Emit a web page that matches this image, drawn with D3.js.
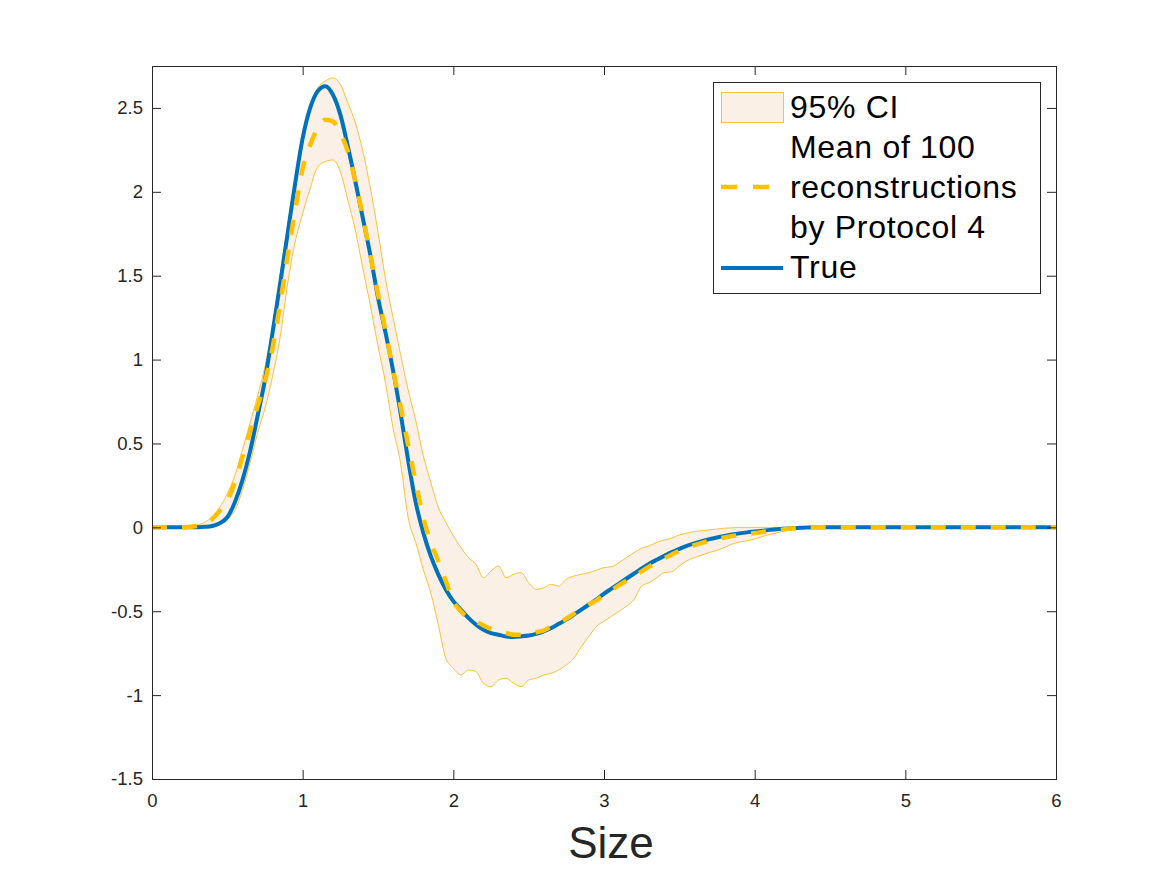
<!DOCTYPE html>
<html>
<head>
<meta charset="utf-8">
<script src="https://cdn.jsdelivr.net/npm/d3@7"></script>
<style>
  body { margin: 0; background: #fff; }
  text { font-family: "Liberation Sans", Arial, Helvetica, sans-serif; }
</style>
</head>
<body>
<div id="chart-area"></div>
<script>
// values
const sizes = [0, 0.05, 0.1, 0.15, 0.2, 0.25, 0.3, 0.35, 0.4, 0.45, 0.5, 0.55, 0.6, 0.65, 0.7, 0.75, 0.8, 0.85, 0.9, 0.95,
  1, 1.05, 1.1, 1.15, 1.2, 1.25, 1.3, 1.35, 1.4, 1.45, 1.5, 1.55, 1.6, 1.65, 1.7, 1.75, 1.8, 1.85, 1.9, 1.95,
  2, 2.05, 2.1, 2.15, 2.2, 2.25, 2.3, 2.35, 2.4, 2.45, 2.5, 2.55, 2.6, 2.65, 2.7, 2.75, 2.8, 2.85, 2.9, 2.95,
  3, 3.05, 3.1, 3.15, 3.2, 3.25, 3.3, 3.35, 3.4, 3.45, 3.5, 3.55, 3.6, 3.65, 3.7, 3.75, 3.8, 3.85, 3.9, 3.95,
  4, 4.05, 4.1, 4.15, 4.2, 4.25, 4.3, 4.35, 4.4, 4.5, 5, 5.5, 6];

const trueVals = [0, 0, 0, 0, 0, 0, 0.001, 0.003, 0.008, 0.025, 0.06, 0.15, 0.28, 0.45, 0.66, 0.88, 1.16, 1.45, 1.75, 2.05,
  2.32, 2.5, 2.6, 2.63, 2.58, 2.46, 2.27, 2.06, 1.84, 1.62, 1.37, 1.16, 0.935, 0.68, 0.4, 0.15, -0.03, -0.17, -0.28, -0.37,
  -0.44, -0.49, -0.54, -0.58, -0.61, -0.63, -0.64, -0.65, -0.653, -0.65, -0.645, -0.635, -0.62, -0.6, -0.575, -0.55, -0.52, -0.49, -0.46, -0.43,
  -0.395, -0.365, -0.335, -0.305, -0.275, -0.245, -0.217, -0.193, -0.17, -0.148, -0.128, -0.11, -0.095, -0.082, -0.07, -0.06, -0.051, -0.043, -0.036, -0.03,
  -0.025, -0.02, -0.015, -0.011, -0.008, -0.005, -0.003, -0.001, 0, 0, 0, 0, 0];

const meanVals = [0, 0, 0, 0, 0, 0.003, 0.008, 0.02, 0.05, 0.1, 0.16, 0.27, 0.42, 0.57, 0.72, 0.87, 1.07, 1.33, 1.62, 1.89,
  2.14, 2.28, 2.38, 2.43, 2.42, 2.35, 2.24, 2.06, 1.85, 1.62, 1.39, 1.17, 0.94, 0.72, 0.49, 0.27, 0.06, -0.09, -0.2, -0.32,
  -0.44, -0.5, -0.54, -0.56, -0.585, -0.605, -0.62, -0.63, -0.64, -0.64, -0.635, -0.625, -0.615, -0.59, -0.57, -0.545, -0.515, -0.485, -0.46, -0.435,
  -0.405, -0.375, -0.345, -0.317, -0.29, -0.262, -0.234, -0.208, -0.184, -0.162, -0.14, -0.122, -0.106, -0.092, -0.08, -0.069, -0.06, -0.052, -0.045, -0.039,
  -0.034, -0.028, -0.022, -0.016, -0.011, -0.007, -0.004, -0.002, 0, 0, 0, 0, 0];

const upperVals = [0, 0, 0.001, 0.002, 0.003, 0.006, 0.013, 0.03, 0.065, 0.12, 0.2, 0.31, 0.46, 0.62, 0.78, 0.96, 1.2, 1.5, 1.8, 2.08,
  2.34, 2.52, 2.62, 2.66, 2.68, 2.64, 2.53, 2.41, 2.24, 2.02, 1.76, 1.48, 1.25, 1.03, 0.82, 0.64, 0.43, 0.27, 0.12, 0.03,
  -0.05, -0.12, -0.18, -0.22, -0.3, -0.26, -0.23, -0.3, -0.28, -0.27, -0.33, -0.37, -0.36, -0.34, -0.35, -0.31, -0.29, -0.28, -0.27, -0.255,
  -0.24, -0.235, -0.21, -0.18, -0.15, -0.125, -0.11, -0.09, -0.075, -0.065, -0.045, -0.035, -0.025, -0.02, -0.015, -0.01, -0.005, -0.003, 0, 0,
  0, 0, 0, 0, 0, 0, 0, 0, 0, 0, 0, 0, 0];

const lowerVals = [0, 0, 0, 0, 0, 0, 0, 0.001, 0.005, 0.02, 0.05, 0.1, 0.22, 0.38, 0.56, 0.71, 0.9, 1.13, 1.45, 1.7,
  1.87, 2.02, 2.15, 2.18, 2.19, 2.12, 1.95, 1.77, 1.54, 1.32, 1.08, 0.86, 0.59, 0.38, 0.06, -0.09, -0.25, -0.39, -0.58, -0.78,
  -0.84, -0.88, -0.85, -0.86, -0.93, -0.95, -0.91, -0.9, -0.93, -0.95, -0.91, -0.9, -0.88, -0.87, -0.85, -0.82, -0.78, -0.71, -0.65, -0.59,
  -0.56, -0.53, -0.5, -0.47, -0.43, -0.35, -0.33, -0.3, -0.27, -0.265, -0.23, -0.2, -0.18, -0.165, -0.15, -0.137, -0.12, -0.1, -0.087, -0.08,
  -0.07, -0.055, -0.042, -0.032, -0.02, -0.005, 0, 0, 0, 0, 0, 0, 0];

const xTicks = [0, 1, 2, 3, 4, 5, 6];
const yTicks = [-1.5, -1, -0.5, 0, 0.5, 1, 1.5, 2, 2.5];
const yLimits = [-1.5, 2.75];
const legendLabels = ['95% CI', 'Mean of 100', 'reconstructions', 'by Protocol 4', 'True'];

const W = 1167, H = 875;
const margins = { top: 66, bottom: 96, left: 152, right: 111 };
const width = W - margins.left - margins.right;
const height = H - margins.top - margins.bottom;

const root = d3.select('#chart-area').append('svg')
  .attr('width', W)
  .attr('height', H);
const svg = root.append('g')
  .attr('transform', `translate(${margins.left}, ${margins.top})`);

const x = d3.scaleLinear().domain([0, 6]).range([0, width]);
const y = d3.scaleLinear().domain(yLimits).range([height, 0]);

const points = sizes.map((s, i) => ({
  s, t: trueVals[i], m: meanVals[i], u: upperVals[i], l: lowerVals[i]
}));

// CI band
svg.append('path')
  .datum(points)
  .attr('fill', '#faf0e6')
  .attr('stroke', 'none')
  .attr('d', d3.area().x(d => x(d.s)).y0(d => y(d.l)).y1(d => y(d.u)).curve(d3.curveMonotoneX));

['u', 'l'].forEach(k => {
  svg.append('path')
    .datum(points)
    .attr('fill', 'none')
    .attr('stroke', '#f8c33a')
    .attr('stroke-width', 1)
    .attr('d', d3.line().x(d => x(d.s)).y(d => y(d[k])).curve(d3.curveMonotoneX));
});

// true curve
svg.append('path')
  .datum(points)
  .attr('fill', 'none')
  .attr('stroke', '#0072bd')
  .attr('stroke-width', 4)
  .attr('d', d3.line().x(d => x(d.s)).y(d => y(d.t)).curve(d3.curveMonotoneX));

// mean curve
svg.append('path')
  .datum(points)
  .attr('fill', 'none')
  .attr('stroke', '#ffc000')
  .attr('stroke-width', 4.5)
  .attr('stroke-dasharray', '15,15')
  .attr('d', d3.line().x(d => x(d.s)).y(d => y(d.m)).curve(d3.curveMonotoneX));

// axes (box with inward ticks)
const axisColor = '#262626';
const xAxisCall = d3.axisBottom(x).tickValues(xTicks).tickSize(-9).tickPadding(15).tickFormat(d3.format('d'));
const yAxisCall = d3.axisLeft(y).tickValues(yTicks).tickSize(-9).tickPadding(9).tickFormat(d => d);

const styleAxis = g => {
  g.select('.domain').attr('stroke', axisColor);
  g.selectAll('.tick line').attr('stroke', axisColor);
  g.selectAll('.tick text')
    .attr('fill', axisColor)
    .attr('font-size', '18.5px')
    .attr('font-family', '"Liberation Sans", Arial, sans-serif');
};

svg.append('g')
  .attr('transform', `translate(0, ${height})`)
  .call(xAxisCall)
  .call(styleAxis);
svg.append('g')
  .call(d3.axisTop(x).tickValues(xTicks).tickSize(-9).tickFormat(''))
  .call(styleAxis);
svg.append('g')
  .call(yAxisCall)
  .call(styleAxis);
svg.append('g')
  .attr('transform', `translate(${width}, 0)`)
  .call(d3.axisRight(y).tickValues(yTicks).tickSize(-9).tickFormat(''))
  .call(styleAxis);

// x label
root.append('text')
  .attr('x', 611)
  .attr('y', 858)
  .attr('text-anchor', 'middle')
  .attr('font-size', '44px')
  .attr('fill', axisColor)
  .text('Size');

// legend
const legend = root.append('g').attr('transform', 'translate(713, 82)');
legend.append('rect')
  .attr('x', 0.5).attr('y', 0.5)
  .attr('width', 327).attr('height', 211)
  .attr('fill', '#fff')
  .attr('stroke', axisColor)
  .attr('stroke-width', 1);
legend.append('rect')
  .attr('x', 8.5).attr('y', 10.5)
  .attr('width', 62).attr('height', 30)
  .attr('fill', '#faf0e6')
  .attr('stroke', '#f8c33a')
  .attr('stroke-width', 1);
legend.append('line')
  .attr('x1', 8).attr('x2', 72).attr('y1', 105).attr('y2', 105)
  .attr('stroke', '#ffc000')
  .attr('stroke-width', 4.5)
  .attr('stroke-dasharray', '16,16');
legend.append('line')
  .attr('x1', 8).attr('x2', 70).attr('y1', 186).attr('y2', 186)
  .attr('stroke', '#0072bd')
  .attr('stroke-width', 4);
legend.selectAll('text.lab')
  .data(legendLabels)
  .enter()
  .append('text')
  .attr('class', 'lab')
  .attr('x', 77)
  .attr('y', (d, i) => 36 + i * 40)
  .attr('font-size', '32px')
  .attr('letter-spacing', '0.7px')
  .attr('fill', '#000')
  .text(d => d);
</script>
</body>
</html>
